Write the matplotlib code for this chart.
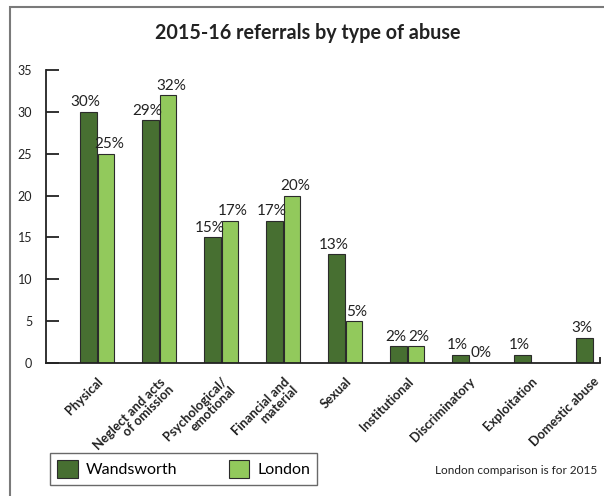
import numpy as np
import matplotlib
matplotlib.use("Agg")
import matplotlib.pyplot as plt
from matplotlib.patches import Rectangle

plt.rcParams['font.family'] = ['Lato', 'DejaVu Sans']

categories = ["Physical", "Neglect and acts\nof omission", "Psychological/\nemotional",
              "Financial and\nmaterial", "Sexual", "Institutional", "Discriminatory",
              "Exploitation", "Domestic abuse"]
wandsworth = [30, 29, 15, 17, 13, 2, 1, 1, 3]
london = [25, 32, 17, 20, 5, 2, 0, None, None]   # no London figure for the last two
y_ticks = [0, 5, 10, 15, 20, 25, 30, 35]

dark = "#476f31"
light = "#92c95c"
edge = "#2b2b2b"

fig = plt.figure(figsize=(6.04, 4.96), dpi=100)
ax = fig.add_axes([46/604, 133/496, 554/604, 293/496])

x = np.arange(len(categories))
w = 0.265
off = 0.14

for i, v in enumerate(wandsworth):
    ax.bar(x[i] - off, v, w, color=dark, edgecolor=edge, linewidth=0.8, zorder=2)
    ax.text(x[i] - off - 0.05, v + 0.3, f"{v}%", ha="center", va="bottom", fontsize=11, color="#222222")
for i, v in enumerate(london):
    if v is None:
        continue
    ax.bar(x[i] + off, v, w, color=light, edgecolor=edge, linewidth=0.8, zorder=2)
    ax.text(x[i] + off + 0.05, v + 0.3, f"{v}%", ha="center", va="bottom", fontsize=11, color="#222222")

ax.set_xlim(-0.823, 8.11)
ax.set_ylim(0, 35)

for s in ["top", "right"]:
    ax.spines[s].set_visible(False)
for s in ["left", "bottom"]:
    ax.spines[s].set_linewidth(1.3)
    ax.spines[s].set_color("#222222")

ax.set_yticks(y_ticks)
ax.set_yticklabels([str(t) for t in y_ticks], fontsize=9, color="#222222")
ax.tick_params(axis="y", direction="in", length=9, width=1.3, pad=10, color="#222222")

ax.set_xticks(x)
ax.set_xticklabels(categories, rotation=45, ha="right", rotation_mode="anchor",
                   fontsize=9.3, fontweight="bold", color="#222222", linespacing=0.95)
ax.tick_params(axis="x", length=0, pad=9)
ax.set_xticks([8.11], minor=True)
ax.tick_params(axis="x", which="minor", direction="in", length=4, width=1.3, color="#222222")

fig.text(308/604, 1 - 33/496, "2015-16 referrals by type of abuse", ha="center", va="center",
         fontsize=14.2, fontweight="bold", color="#222222")

# outer frame (only left/top edges fall inside the image)
fig.patches.append(Rectangle((10/604, -0.1), 1.2, (496 - 7)/496 + 0.1, transform=fig.transFigure,
                             fill=False, edgecolor="#7a7a7a", linewidth=1.5))

h1 = Rectangle((0, 0), 1, 1, facecolor=dark, edgecolor=edge, linewidth=0.8)
h2 = Rectangle((0, 0), 1, 1, facecolor=light, edgecolor=edge, linewidth=0.8)
leg = fig.legend([h1, h2], ["Wandsworth", "London"], loc="center left",
                 bbox_to_anchor=(50/604, 1 - 469/496), ncol=2, fontsize=11.5,
                 frameon=True, fancybox=False, edgecolor="#444444",
                 handlelength=1.3, handleheight=1.3, columnspacing=3.2,
                 handletextpad=0.5, borderpad=0.45, borderaxespad=0)
leg.get_frame().set_linewidth(1.0)

fig.text(597/604, 1 - 470/496, "London comparison is for 2015", ha="right", va="center",
         fontsize=8.5, color="#222222")

fig.savefig("out.png", dpi=100)
